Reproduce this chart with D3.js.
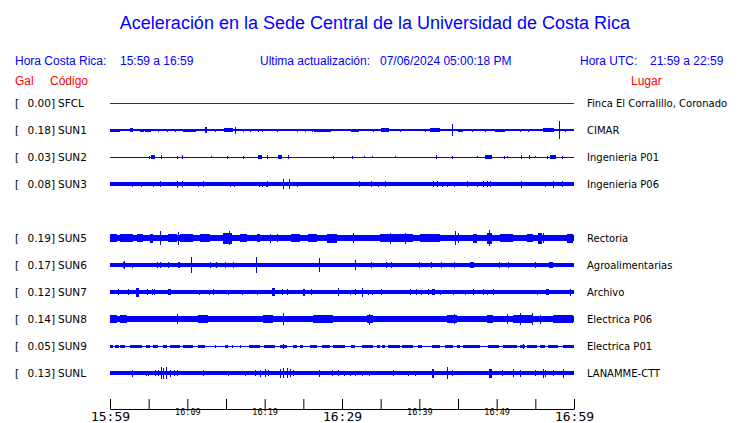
<!DOCTYPE html>
<html>
<head>
<meta charset="utf-8">
<script src="https://cdn.jsdelivr.net/npm/d3@7"></script>
<style>
  body { margin: 0; background: #fff; }
  svg { display: block; }
</style>
</head>
<body>
<svg width="740" height="423"></svg>
<script>
const width = 740;
const height = 423;

// row slots (SUN4 is not reporting, its row stays empty)
const rowSlots = ['SFCL', 'SUN1', 'SUN2', 'SUN3', 'SUN4', 'SUN5', 'SUN6', 'SUN7', 'SUN8', 'SUN9', 'SUNL'];

const codes = ['SFCL', 'SUN1', 'SUN2', 'SUN3', 'SUN5', 'SUN6', 'SUN7', 'SUN8', 'SUN9', 'SUNL'];
const peakGal = [0.00, 0.18, 0.03, 0.08, 0.19, 0.17, 0.12, 0.14, 0.05, 0.13];
const places = ['Finca El Corralillo, Coronado', 'CIMAR', 'Ingenieria P01', 'Ingenieria P06',
  'Rectoria', 'Agroalimentarias', 'Archivo', 'Electrica P06', 'Electrica P01', 'LANAMME-CTT'];

// background noise level of each trace (relative amplitude)
const noiseLevel = [0.0, 0.1, 0.05, 0.17, 0.33, 0.2, 0.18, 0.28, 0.05, 0.18];

// bursts: [minute since 15:59, amplitude, duration in minutes]
const bursts = {
  SFCL: [],
  SUN1: [[0.4,0.15,1.8],[2.8,0.2,0.3],[4.1,0.15,0.5],[4.9,0.15,0.7],[6.2,0.15],[7.4,0.15],[8.4,0.15],[9.4,0.15],
    [10.3,0.15,1.7],[12.4,0.3,0.3],[13.6,0.15],[15.3,0.2,1.2],[16.2,0.35],[17.2,0.15],[18.1,0.15],[19.1,0.15],[19.7,0.15],
    [21.6,0.15],[24.2,0.15],[25.2,0.15],[26.1,0.15],[27.5,0.15,2.2],[30.0,0.12],[31.7,0.15,1],[34,0.15],[35.6,0.2,1],
    [37.5,0.15],[40.7,0.15],[42,0.2,1.3],[44.2,0.6],[45.3,0.15,0.7],[46.8,0.15],[48.5,0.15],[50.4,0.15,1.3],[53,0.15],
    [54,0.15],[56.7,0.2,1.5],[58,0.9],[58.9,0.15]],
  SUN2: [[5.0,0.15],[5.6,0.2,0.5],[6.6,0.2],[8.7,0.15],[9.3,0.2],[13.1,0.1],[15.1,0.15],[17.2,0.15],[19.4,0.2,0.4],
    [20.3,0.2],[22.0,0.2,0.5],[23.0,0.2],[28.8,0.15],[31.3,0.15],[32.8,0.1],[33.9,0.1],[36.9,0.1],[42.2,0.2],[44.2,0.15],
    [47.5,0.1],[49.0,0.2,0.9],[51.0,0.15],[51.3,0.1],[53.1,0.2],[54.2,0.2],[55.0,0.1],[56.5,0.15],[57.3,0.2,0.8],[58.5,0.15]],
  SUN3: [[2.8,0.25],[4.0,0.25],[5.6,0.25],[6.5,0.3],[8.7,0.35],[9.3,0.3],[11.4,0.25],[12.0,0.3],[15.5,0.25],[16.0,0.25],
    [19.3,0.25],[19.7,0.25],[20.2,0.25],[20.3,0.3],[22.4,0.5],[23.1,0.5],[24.2,0.25],[32.2,0.3],[33.8,0.3],[34.7,0.25],
    [35.6,0.3],[41.8,0.3],[42.3,0.3],[42.9,0.25],[43.6,0.25],[44.5,0.25],[46.2,0.3],[47.5,0.25],[48.2,0.3],[48.8,0.3],
    [49.1,0.3],[53.1,0.35],[56.3,0.25],[57.3,0.35],[58.5,0.3]],
  SUN5: [[0.5,0.4,0.9],[2.1,0.4,1.7],[3.9,0.4,0.8],[5.4,0.45,0.4],[6.5,0.7],[8.1,0.4,1.2],[8.8,0.65],[9.9,0.4,1.6],
    [12.3,0.4,1.3],[15.2,0.55,1.2],[15.4,0.7],[17.3,0.4,0.9],[19.2,0.4,0.4],[20.7,0.45],[21.6,0.4],[24.0,0.4,1.1],[26.2,0.4,1.2],
    [28.7,0.45,1.3],[31.4,0.5],[37.0,0.42,4.3],[36.2,0.55],[38.1,0.55],[41.4,0.4,2.6],[44.6,0.7],[45.0,0.5],[47.2,0.45,0.6],[49.1,0.55,0.7],
    [49.0,0.8],[51.3,0.42,1.7],[54.3,0.4,0.8],[55.6,0.55,0.6],[56.0,0.5],[59.5,0.45,0.8]],
  SUN6: [[1.7,0.3],[1.8,0.4],[2.8,0.25],[6.1,0.3],[6.5,0.3],[7.5,0.3],[8.9,0.3,0.3],[10.5,0.8],[12.9,0.3],[13.7,0.3],
    [14.9,0.3],[15.9,0.3],[18.9,0.8],[27.0,0.7],[31.7,0.5],[33.8,0.3],[35.7,0.3],[36.3,0.3],[40.0,0.3],[41.5,0.3],
    [42.8,0.3],[44.5,0.3],[46.8,0.3,0.5],[50.3,0.3],[51.5,0.3],[55.0,0.3],[57.0,0.3,0.5]],
  SUN7: [[1.0,0.3],[2.3,0.3],[3.6,0.45,0.4],[4.8,0.3],[5.4,0.3],[5.7,0.3],[7.7,0.3,0.4],[11.5,0.25],[12.8,0.25],
    [13.3,0.3],[15.3,0.25],[17.1,0.25],[19.0,0.25],[21.1,0.4,0.4],[22.2,0.3],[22.9,0.3],[25.1,0.35,0.3],[26.0,0.3],
    [29.5,0.4],[31.0,0.25],[31.7,0.3],[32.6,0.45],[33.4,0.25],[33.9,0.25],[35.0,0.3],[38.8,0.3],[39.6,0.3],[40.2,0.25],
    [41.1,0.3],[41.8,0.3,0.4],[42.7,0.25],[44.4,0.25],[45.9,0.25],[46.9,0.3],[48.2,0.3],[48.7,0.25],[49.5,0.3],
    [55.2,0.25],[56.6,0.3,0.4],[59.5,0.35]],
  SUN8: [[0.5,0.36,0.9],[1.7,0.36,0.9],[3.4,0.34,1.7],[6.5,0.34,2.6],[8.7,0.5],[10.5,0.34,1.8],[12.0,0.36,1.3],
    [14.1,0.34,1.8],[17.5,0.34,1.3],[20.4,0.36,1.3],[22.4,0.6],[23.7,0.34,1.7],[27.5,0.36,2.6],[31.7,0.34,1.3],[33.5,0.55],
    [33.6,0.42,0.8],[36.7,0.34,1.7],[41.1,0.34,1.3],[44.2,0.42,1.3],[44.5,0.5],[49.1,0.42,0.8],[51.3,0.5],[53.4,0.4,2.6],
    [53.0,0.6],[54.6,0.6],[55.6,0.45],[58.6,0.36,2.6]],
  SUN9: [[0.2,0.15,0.4],[0.9,0.15,0.4],[1.6,0.15,0.6],[3.4,0.15,1.5],[4.9,0.15,0.6],[5.9,0.15,0.6],[7.1,0.15,0.5],
    [8.4,0.15,1.3],[10.1,0.15,1.3],[11.8,0.15,0.9],[13.6,0.15],[15.1,0.15,0.4],[15.8,0.15],[16.8,0.15],[18.7,0.15,1.4],
    [20.6,0.15,1.5],[22.4,0.15,0.9],[22.4,0.25],[23.9,0.15,0.6],[24.8,0.15,0.4],[26.3,0.15,0.9],[27.9,0.15,1],
    [29.3,0.15,0.9],[30.1,0.15,0.6],[31.4,0.15,0.6],[33.3,0.15,1.4],[34.7,0.15,0.4],[35.4,0.15,0.4],[36.7,0.15,1.5],
    [38.5,0.15,1.4],[40.1,0.15,0.5],[42.2,0.15,1],[43.8,0.15,1],[45.1,0.15,0.4],[46.7,0.15,2.2],[49.6,0.15,1.5],
    [51.7,0.15,1.8],[53.3,0.15,0.6],[53.4,0.25],[54.6,0.15,1.3],[55.9,0.15,0.6],[57.3,0.15,1.3],[59.3,0.15,1.5]],
  SUNL: [[2.8,0.35],[4.7,0.25],[4.9,0.25],[5.8,0.3],[6.2,0.3],[6.6,0.6],[6.9,0.55],[7.2,0.6],[7.8,0.35],[8.3,0.3],
    [8.7,0.3],[12.0,0.3],[15.3,0.25],[17.5,0.25],[18.8,0.3],[19.4,0.35],[20.0,0.4],[20.4,0.3],[22.0,0.45],[22.4,0.5],
    [22.9,0.5],[23.3,0.4],[23.7,0.3],[27.0,0.35],[28.7,0.3],[29.5,0.3],[30.2,0.25],[31.0,0.25],[31.7,0.25],[32.6,0.25],
    [33.5,0.25],[36.6,0.3],[38.5,0.25],[39.4,0.25],[41.8,0.45,0.3],[43.6,0.6],[44.2,0.3],[49.2,0.45,0.4],[50.7,0.3],
    [52.1,0.4],[53.0,0.35],[55.0,0.3],[56.0,0.45],[56.3,0.35],[57.3,0.3],[58.6,0.45]]
};

const tickMinutes = d3.range(0, 61, 5);
const tickLabels = {0: '15:59', 10: '16:09', 20: '16:19', 30: '16:29', 40: '16:39', 50: '16:49', 60: '16:59'};
const bigTicks = [0, 30, 60];

const svg = d3.select('svg');
const blue = '#0000ff';
const red = '#ff0000';

const x = d3.scaleLinear().domain([0, 60]).range([110, 574]).clamp(true);
const y = d3.scalePoint().domain(rowSlots).range([103, 373]);
const amp = d3.scaleLinear().domain([0, 1]).range([0, 10]);

// title and header
svg.append('text')
  .attr('x', 375).attr('y', 29)
  .attr('text-anchor', 'middle')
  .attr('font-family', 'Liberation Sans, Arial, sans-serif')
  .attr('font-size', 18)
  .attr('fill', blue)
  .text('Aceleración en la Sede Central de la Universidad de Costa Rica');

const header = [
  {x: 15, t: 'Hora Costa Rica:', c: blue, y: 65},
  {x: 120, t: '15:59 a 16:59', c: blue, y: 65},
  {x: 260, t: 'Ultima actualización:', c: blue, y: 65},
  {x: 380, t: '07/06/2024 05:00:18 PM', c: blue, y: 65},
  {x: 580, t: 'Hora UTC:', c: blue, y: 65},
  {x: 650, t: '21:59 a 22:59', c: blue, y: 65},
  {x: 15, t: 'Gal', c: red, y: 85},
  {x: 50, t: 'Código', c: red, y: 85},
  {x: 631, t: 'Lugar', c: red, y: 85}
];
svg.selectAll('text.head')
  .data(header)
  .enter().append('text')
  .attr('class', 'head')
  .attr('x', d => d.x).attr('y', d => d.y)
  .attr('font-family', 'Liberation Sans, Arial, sans-serif')
  .attr('font-size', 12)
  .attr('fill', d => d.c)
  .text(d => d.t);

// station rows
const rows = svg.selectAll('g.row')
  .data(codes)
  .enter().append('g')
  .attr('class', 'row')
  .attr('transform', d => `translate(0,${y(d)})`);

rows.append('text')
  .attr('x', 15).attr('y', 4)
  .attr('font-family', 'DejaVu Sans, sans-serif')
  .attr('font-size', 10.5)
  .text('[');
rows.append('text')
  .attr('x', 55).attr('y', 4)
  .attr('text-anchor', 'end')
  .attr('font-family', 'DejaVu Sans, sans-serif')
  .attr('font-size', 10.5)
  .text((d, i) => peakGal[i].toFixed(2) + ']');
rows.append('text')
  .attr('x', 58).attr('y', 4)
  .attr('font-family', 'DejaVu Sans, sans-serif')
  .attr('font-size', 10.5)
  .text(d => d);
rows.append('text')
  .attr('x', 587).attr('y', 4)
  .attr('font-family', 'DejaVu Sans, sans-serif')
  .attr('font-size', 10)
  .text((d, i) => places[i]);

// traces: base noise band plus bursts
rows.each(function(code, i) {
  const g = d3.select(this);
  const col = code === 'SFCL' ? '#b00000' : blue;
  if (code === 'SFCL') {
    g.append('line')
      .attr('x1', x(0)).attr('x2', x(60))
      .attr('y1', 0.5).attr('y2', 0.5)
      .attr('stroke', col).attr('stroke-width', 1);
    return;
  }
  const h = Math.max(0.5, amp(noiseLevel[i]));
  g.append('rect')
    .attr('x', x(0)).attr('width', x(60) - x(0))
    .attr('y', -h).attr('height', 2 * h)
    .attr('shape-rendering', 'crispEdges')
    .attr('fill', col);
  g.selectAll('rect.burst')
    .data(bursts[code])
    .enter().append('rect')
    .attr('class', 'burst')
    .attr('x', d => x(d[0] - (d[2] || 0) / 2))
    .attr('width', d => Math.max(1, x(d[0] + (d[2] || 0) / 2) - x(d[0] - (d[2] || 0) / 2)))
    .attr('y', d => -amp(d[1]))
    .attr('height', d => 2 * amp(d[1]))
    .attr('shape-rendering', 'crispEdges')
    .attr('fill', col);
});

// time axis
const axis = d3.axisBottom(x)
  .tickValues(tickMinutes)
  .tickSize(-10)
  .tickSizeOuter(0)
  .tickFormat(m => tickLabels[m] || '');

const ax = svg.append('g')
  .attr('transform', 'translate(0,409)')
  .call(axis);
ax.select('.domain').attr('stroke', '#000');
ax.selectAll('.tick line').attr('stroke', '#000');
ax.selectAll('.tick text')
  .attr('font-family', 'DejaVu Sans Mono, monospace')
  .attr('fill', '#000')
  .attr('font-size', m => bigTicks.includes(m) ? 13 : 8.5)
  .attr('y', m => bigTicks.includes(m) ? 2 : 0)
  .attr('dy', m => bigTicks.includes(m) ? '0.78em' : '0.75em');
</script>
</body>
</html>
